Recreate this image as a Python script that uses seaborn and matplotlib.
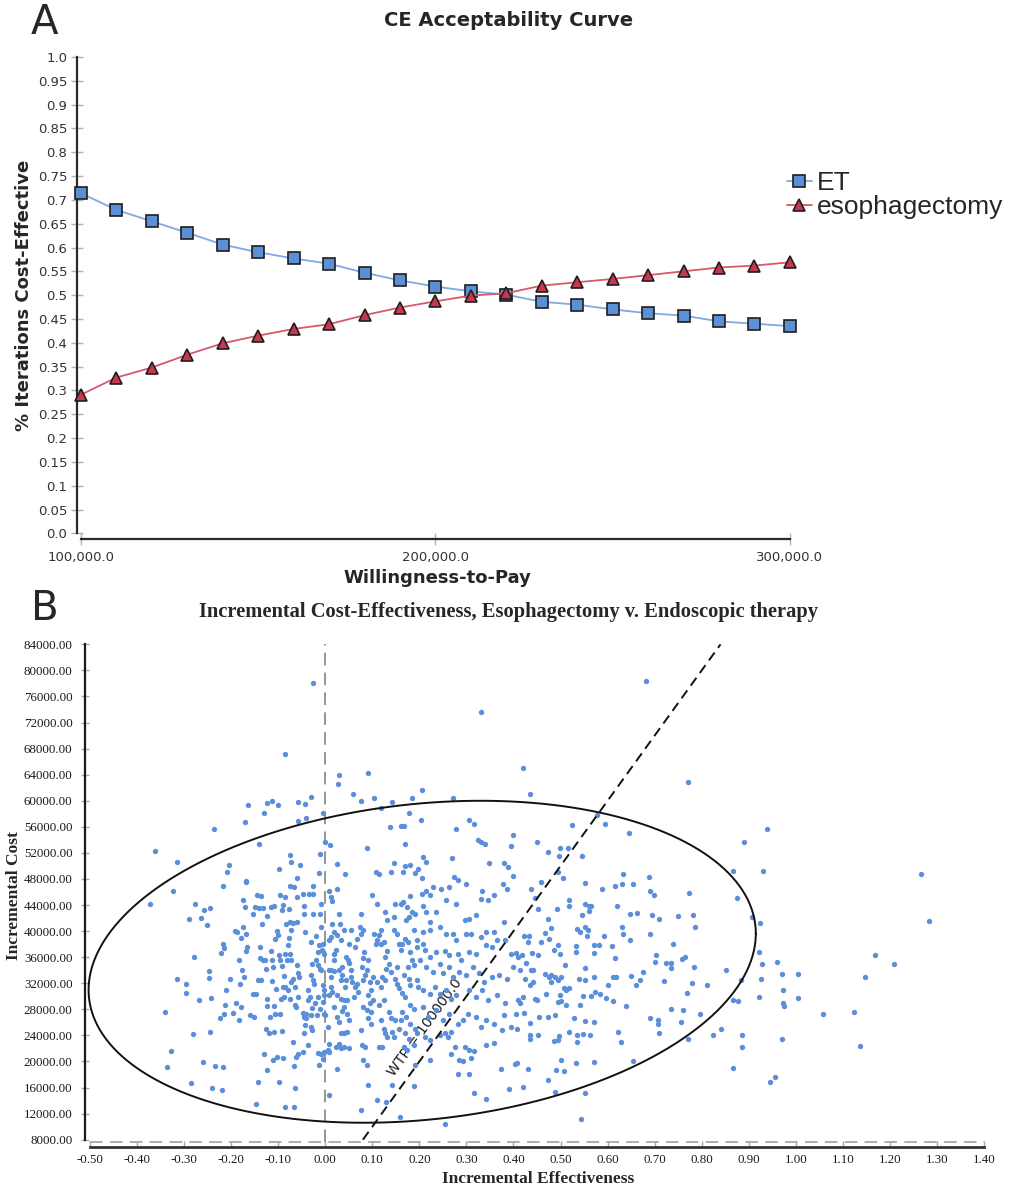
import numpy as np
import matplotlib
matplotlib.use("Agg")
import matplotlib.pyplot as plt
import seaborn as sns

# ---- panel A: CE acceptability curve ----
wtp = list(range(100000, 300001, 10000))
et_share = [0.714, 0.679, 0.655, 0.631, 0.606, 0.590, 0.577, 0.566, 0.547, 0.531, 0.518,
            0.508, 0.501, 0.486, 0.480, 0.470, 0.462, 0.457, 0.445, 0.440, 0.435]
eso_share = [0.291, 0.327, 0.348, 0.375, 0.399, 0.415, 0.429, 0.439, 0.458, 0.474, 0.487,
             0.499, 0.504, 0.520, 0.527, 0.534, 0.542, 0.550, 0.558, 0.562, 0.569]
a_yticks = [round(i * 0.05, 2) for i in range(21)]
a_xticks = [100000, 200000, 300000]

# ---- panel B: incremental cost-effectiveness plane (effectiveness, cost in $1000) ----
pts_top = [(-0.362, 52.3), (-0.316, 50.6), (-0.236, 55.7), (-0.170, 56.8), (-0.165, 59.4), (-0.168, 47.7),
           (-0.140, 53.4), (-0.130, 58.1), (-0.123, 59.6), (-0.114, 60.0), (-0.100, 59.3), (-0.086, 67.1),
           (-0.205, 50.1), (-0.208, 49.0), (-0.098, 49.5), (-0.075, 51.7), (-0.072, 50.6), (-0.053, 50.2),
           (-0.060, 48.2), (-0.058, 59.8), (-0.044, 59.5), (-0.058, 56.9), (-0.041, 57.4), (-0.031, 60.6),
           (-0.025, 78.0), (-0.004, 58.1), (-0.012, 51.9), (-0.013, 48.9), (-0.001, 53.6), (0.010, 53.2),
           (0.025, 50.3), (0.041, 48.8), (0.028, 62.5), (0.029, 63.9), (0.059, 61.1), (0.076, 59.9),
           (0.090, 64.2), (0.104, 60.4), (0.089, 52.8), (0.119, 58.9), (0.141, 59.8), (0.138, 55.9),
           (0.108, 49.1), (0.115, 48.8), (0.139, 49.1), (0.147, 50.4), (0.161, 56.2), (0.168, 56.2),
           (0.169, 53.4), (0.178, 58.1), (0.184, 60.5), (0.170, 50.0), (0.181, 50.1), (0.165, 49.1),
           (0.190, 48.9), (0.198, 49.5), (0.205, 61.6), (0.204, 57.1), (0.207, 51.3), (0.214, 50.6),
           (0.206, 48.2), (0.272, 60.5), (0.277, 55.6), (0.269, 51.2), (0.273, 48.3), (0.331, 73.6),
           (0.306, 57.1), (0.317, 56.4), (0.324, 54.0), (0.331, 53.6), (0.339, 53.4), (0.347, 50.4),
           (0.380, 50.5), (0.388, 49.9), (0.394, 53.1), (0.399, 54.8), (0.399, 48.4), (0.681, 78.4),
           (0.421, 65.1), (0.436, 61.0), (0.770, 62.9), (0.577, 57.8), (0.594, 56.5), (0.525, 56.3),
           (0.645, 55.0), (0.938, 55.6), (0.889, 53.7), (0.449, 53.7), (0.473, 52.2), (0.499, 52.7),
           (0.515, 52.7), (0.497, 51.5), (0.545, 51.6), (0.494, 49.1), (0.506, 48.1), (0.632, 48.8),
           (0.688, 48.3), (0.867, 49.3), (0.931, 49.2), (1.265, 48.8)]

pts_left = [(-0.372, 44.1), (-0.323, 46.2), (-0.341, 27.6), (-0.327, 21.6), (-0.337, 19.2), (-0.315, 32.7),
            (-0.297, 31.9), (-0.297, 30.5), (-0.289, 41.8), (-0.276, 44.2), (-0.279, 36.0), (-0.281, 24.2),
            (-0.285, 16.7), (-0.269, 29.5), (-0.264, 42.0), (-0.258, 43.3), (-0.245, 43.6), (-0.252, 40.9),
            (-0.247, 33.9), (-0.247, 32.8), (-0.242, 29.7), (-0.245, 24.5), (-0.259, 19.9), (-0.234, 19.3),
            (-0.241, 16.0), (-0.218, 19.1), (-0.220, 15.6), (-0.223, 26.7), (-0.216, 27.3), (-0.214, 28.6),
            (-0.211, 30.9), (-0.203, 32.7), (-0.222, 36.6), (-0.215, 37.4), (-0.218, 38.0), (-0.217, 47.0),
            (-0.196, 27.5), (-0.190, 29.0), (-0.184, 26.3), (-0.179, 28.4), (-0.184, 35.6), (-0.179, 39.0),
            (-0.191, 40.0), (-0.187, 39.8), (-0.175, 40.6), (-0.182, 31.9), (-0.176, 34.0), (-0.173, 33.0),
            (-0.168, 37.0), (-0.166, 37.5), (-0.174, 44.7), (-0.171, 43.7), (-0.168, 47.5), (-0.168, 39.6),
            (-0.161, 27.1), (-0.151, 26.9), (-0.154, 30.4), (-0.147, 30.3), (-0.143, 32.5), (-0.136, 32.5),
            (-0.138, 35.9), (-0.133, 35.6), (-0.139, 37.6), (-0.135, 41.1), (-0.145, 45.5), (-0.136, 45.4),
            (-0.153, 42.6), (-0.150, 43.7), (-0.140, 43.6), (-0.133, 43.6), (-0.123, 42.3), (-0.116, 43.7),
            (-0.109, 43.9), (-0.128, 35.5), (-0.127, 34.2), (-0.124, 29.6), (-0.123, 28.5), (-0.125, 25.0),
            (-0.130, 21.1), (-0.124, 18.7), (-0.142, 16.8), (-0.148, 13.4), (-0.118, 26.8), (-0.109, 28.5),
            (-0.120, 24.3), (-0.112, 20.3), (-0.099, 16.8), (-0.102, 20.7), (-0.090, 20.6), (-0.110, 24.5),
            (-0.107, 27.3), (-0.097, 27.3), (-0.091, 24.6), (-0.105, 31.1), (-0.113, 32.3), (-0.112, 34.5),
            (-0.113, 35.5), (-0.116, 37.0), (-0.106, 38.8), (-0.101, 39.4), (-0.102, 40.0), (-0.098, 36.3),
            (-0.097, 35.5), (-0.093, 34.6), (-0.088, 33.1), (-0.090, 31.5), (-0.085, 31.4), (-0.095, 29.6),
            (-0.088, 29.9), (-0.079, 30.9), (-0.076, 29.6), (-0.065, 31.5), (-0.068, 32.7), (-0.072, 32.2),
            (-0.079, 37.8), (-0.078, 39.0), (-0.072, 40.2), (-0.069, 41.2), (-0.075, 41.4), (-0.083, 41.1),
            (-0.086, 36.5), (-0.082, 35.6), (-0.076, 36.5), (-0.072, 35.5), (-0.093, 43.3), (-0.097, 45.5),
            (-0.086, 45.2), (-0.090, 44.0), (-0.075, 47.0), (-0.066, 46.7), (-0.078, 43.4), (-0.061, 45.2),
            (-0.060, 41.4), (-0.060, 34.8), (-0.057, 33.6), (-0.056, 33.0), (-0.058, 29.9), (-0.064, 28.6),
            (-0.062, 28.3), (-0.068, 23.0), (-0.066, 19.3), (-0.062, 20.7), (-0.058, 21.2), (-0.064, 16.0),
            (-0.085, 13.0), (-0.066, 13.0), (-0.048, 21.4), (-0.046, 24.3), (-0.044, 25.6), (-0.048, 27.4),
            (-0.046, 26.8), (-0.041, 26.6), (-0.036, 22.6), (-0.040, 27.3), (-0.037, 29.4), (-0.032, 29.9),
            (-0.037, 30.9), (-0.030, 33.2), (-0.027, 32.5), (-0.023, 31.9), (-0.028, 28.2), (-0.030, 27.1),
            (-0.029, 24.9), (-0.030, 25.3), (-0.046, 42.6), (-0.046, 43.9), (-0.048, 45.7), (-0.034, 45.7),
            (-0.025, 45.7), (-0.027, 46.9), (-0.027, 42.7), (-0.043, 39.9), (-0.030, 38.3), (-0.028, 35.0),
            (-0.020, 35.5), (-0.016, 34.8), (-0.015, 36.8), (-0.013, 37.8), (-0.019, 39.2), (-0.012, 42.7),
            (-0.010, 44.2), (-0.009, 40.6), (-0.005, 38.1), (-0.007, 37.1), (-0.003, 36.5), (-0.011, 34.2),
            (-0.009, 34.0), (-0.016, 29.9), (-0.017, 27.1), (-0.021, 28.9), (-0.012, 28.1), (-0.005, 31.8),
            (-0.003, 30.9), (-0.002, 30.2), (-0.005, 29.1), (-0.002, 27.3), (-0.016, 21.3), (-0.014, 19.4),
            (-0.009, 21.2), (-0.005, 20.4), (-0.002, 21.5)]

pts_mid = [(0.000, 27.1), (0.005, 21.7), (0.008, 21.5), (0.007, 14.8), (0.008, 22.7), (0.005, 25.3),
           (0.008, 46.2), (0.012, 45.2), (0.015, 44.6), (0.026, 46.5), (0.014, 41.1), (0.013, 39.1),
           (0.007, 38.7), (0.019, 39.9), (0.029, 42.7), (0.032, 41.1), (0.033, 38.6), (0.026, 39.4),
           (0.023, 37.1), (0.019, 36.5), (0.018, 35.5), (0.012, 34.1), (0.008, 34.0), (0.012, 33.0),
           (0.019, 33.9), (0.029, 34.0), (0.035, 33.2), (0.033, 32.5), (0.013, 31.4), (0.015, 30.7),
           (0.008, 30.2), (0.026, 30.2), (0.033, 29.6), (0.040, 29.5), (0.047, 29.4), (0.043, 31.4),
           (0.045, 32.5), (0.036, 34.5), (0.044, 36.0), (0.048, 35.5), (0.050, 35.1), (0.054, 34.0),
           (0.054, 33.0), (0.057, 32.2), (0.064, 31.4), (0.068, 31.9), (0.061, 29.9), (0.070, 30.7),
           (0.040, 40.1), (0.055, 40.1), (0.050, 38.0), (0.064, 37.5), (0.068, 38.8), (0.077, 42.7),
           (0.074, 40.7), (0.077, 39.6), (0.081, 40.1), (0.082, 36.8), (0.081, 35.9), (0.079, 34.5),
           (0.084, 33.2), (0.081, 32.5), (0.088, 34.0), (0.091, 35.5), (0.095, 32.2), (0.098, 30.9),
           (0.091, 30.2), (0.081, 28.4), (0.088, 27.9), (0.095, 28.9), (0.098, 27.6), (0.090, 26.6),
           (0.097, 25.8), (0.019, 28.4), (0.026, 26.9), (0.029, 26.1), (0.040, 24.3), (0.047, 24.5),
           (0.050, 26.3), (0.047, 27.3), (0.040, 28.4), (0.036, 27.8), (0.033, 24.3), (0.029, 22.7),
           (0.022, 22.2), (0.034, 22.0), (0.040, 22.2), (0.050, 22.0), (0.026, 18.9), (0.077, 24.8),
           (0.079, 22.6), (0.084, 22.2), (0.081, 20.2), (0.088, 19.4), (0.090, 16.4), (0.077, 12.5),
           (0.109, 14.1), (0.130, 13.8), (0.141, 16.4),
           (0.100, 45.5), (0.111, 44.2), (0.128, 42.9), (0.132, 41.7), (0.146, 42.2), (0.149, 44.2),
           (0.161, 44.2), (0.166, 44.5), (0.173, 43.7), (0.177, 42.2), (0.172, 41.7), (0.180, 45.4),
           (0.184, 42.9), (0.191, 42.7), (0.118, 40.1), (0.114, 39.4), (0.111, 38.6), (0.104, 39.6),
           (0.107, 38.1), (0.118, 38.1), (0.125, 38.3), (0.132, 37.0), (0.128, 36.0), (0.135, 35.0),
           (0.130, 34.2), (0.139, 33.7), (0.146, 40.1), (0.153, 39.6), (0.156, 38.1), (0.160, 37.1),
           (0.163, 38.1), (0.170, 38.8), (0.175, 38.3), (0.188, 40.1), (0.194, 38.6), (0.195, 37.6),
           (0.181, 36.8), (0.184, 35.5), (0.188, 34.8), (0.175, 34.5), (0.153, 34.5), (0.149, 32.7),
           (0.153, 31.9), (0.156, 31.2), (0.163, 30.5), (0.170, 29.9), (0.167, 33.2), (0.177, 32.7),
           (0.181, 31.7), (0.194, 32.5), (0.198, 31.4), (0.102, 33.0), (0.111, 32.2), (0.118, 31.4),
           (0.121, 33.0), (0.128, 32.5), (0.102, 29.4), (0.114, 28.6), (0.125, 29.4), (0.135, 27.6),
           (0.139, 26.6), (0.149, 26.3), (0.160, 26.3), (0.163, 27.6), (0.172, 26.8), (0.181, 28.6),
           (0.188, 28.1), (0.181, 25.8), (0.191, 25.0), (0.118, 26.3), (0.125, 25.0), (0.127, 24.3),
           (0.132, 23.8), (0.142, 24.5), (0.146, 23.8), (0.156, 25.0), (0.170, 24.3), (0.179, 23.5),
           (0.188, 22.5), (0.195, 24.3), (0.114, 22.2), (0.121, 22.2), (0.167, 22.2), (0.174, 21.7),
           (0.191, 19.4), (0.188, 16.2), (0.159, 11.5),
           (0.205, 45.7), (0.215, 46.2), (0.222, 45.5), (0.229, 46.8), (0.247, 46.5), (0.264, 46.8),
           (0.282, 47.8), (0.299, 47.3), (0.208, 43.9), (0.215, 42.9), (0.222, 41.4), (0.236, 42.9),
           (0.257, 44.7), (0.278, 44.2), (0.296, 41.7), (0.306, 41.9), (0.320, 42.5), (0.331, 45.0),
           (0.334, 46.2), (0.345, 44.7), (0.359, 45.5), (0.377, 47.3), (0.387, 46.5), (0.208, 39.9),
           (0.222, 40.1), (0.243, 40.6), (0.257, 39.6), (0.271, 39.6), (0.299, 39.6), (0.310, 39.6),
           (0.331, 39.1), (0.341, 39.9), (0.359, 39.9), (0.380, 41.4), (0.208, 38.1), (0.212, 37.1),
           (0.222, 36.0), (0.236, 36.8), (0.254, 37.0), (0.264, 36.3), (0.278, 38.6), (0.282, 36.5),
           (0.289, 35.5), (0.306, 36.8), (0.320, 36.5), (0.341, 37.8), (0.355, 37.5), (0.366, 38.6),
           (0.383, 38.6), (0.394, 36.5), (0.201, 35.5), (0.215, 34.5), (0.229, 33.7), (0.243, 35.0),
           (0.250, 33.5), (0.264, 34.5), (0.271, 33.0), (0.285, 33.7), (0.299, 33.2), (0.313, 34.5),
           (0.327, 33.5), (0.338, 32.2), (0.355, 33.0), (0.369, 33.2), (0.387, 32.7), (0.398, 34.5),
           (0.208, 30.9), (0.222, 30.4), (0.233, 31.4), (0.243, 30.4), (0.257, 30.9), (0.268, 29.6),
           (0.278, 30.2), (0.306, 30.9), (0.320, 29.9), (0.334, 30.9), (0.345, 29.4), (0.366, 30.2),
           (0.383, 28.9), (0.208, 28.4), (0.218, 26.8), (0.236, 27.9), (0.250, 26.3), (0.264, 27.3),
           (0.282, 25.8), (0.292, 26.3), (0.303, 27.3), (0.320, 26.8), (0.331, 25.3), (0.341, 26.3),
           (0.359, 25.8), (0.380, 27.1), (0.394, 25.3), (0.212, 23.8), (0.222, 23.3), (0.243, 24.0),
           (0.254, 24.3), (0.261, 23.8), (0.268, 24.5), (0.275, 22.2), (0.296, 22.2), (0.306, 21.7),
           (0.317, 21.6), (0.341, 22.5), (0.359, 22.8), (0.376, 24.8), (0.222, 20.2), (0.268, 21.2),
           (0.285, 20.2), (0.292, 20.0), (0.310, 20.6), (0.282, 18.1), (0.306, 18.1), (0.317, 15.1),
           (0.341, 14.2), (0.254, 10.4), (0.373, 18.9), (0.390, 15.8), (0.404, 19.6)]

pts_right = [(0.437, 46.4), (0.458, 47.5), (0.446, 45.1), (0.453, 43.4), (0.492, 43.4), (0.517, 44.7),
             (0.519, 43.9), (0.553, 47.4), (0.552, 44.2), (0.560, 43.9), (0.564, 43.9), (0.560, 43.1),
             (0.589, 46.5), (0.615, 47.0), (0.631, 47.2), (0.653, 47.2), (0.691, 46.1), (0.699, 45.5),
             (0.772, 45.8), (0.876, 45.1), (0.619, 43.8), (0.647, 42.7), (0.662, 42.8), (0.694, 42.4),
             (0.709, 41.8), (0.749, 42.3), (0.781, 42.5), (0.786, 40.6), (0.906, 42.1), (0.923, 41.2),
             (1.283, 41.6), (0.473, 41.9), (0.480, 40.5), (0.466, 39.7), (0.475, 38.8), (0.458, 38.3),
             (0.452, 36.3), (0.423, 39.2), (0.432, 39.2), (0.430, 38.3), (0.439, 36.6), (0.419, 36.3),
             (0.426, 35.1), (0.437, 34.0), (0.441, 34.1), (0.414, 34.1), (0.405, 36.6), (0.409, 36.0),
             (0.487, 37.1), (0.495, 37.8), (0.498, 36.5), (0.510, 34.8), (0.532, 37.7), (0.532, 36.8),
             (0.535, 40.4), (0.542, 39.9), (0.545, 42.4), (0.553, 40.6), (0.559, 40.1), (0.556, 39.2),
             (0.571, 37.9), (0.582, 37.9), (0.571, 36.6), (0.592, 39.2), (0.610, 37.7), (0.616, 35.9),
             (0.631, 40.6), (0.633, 39.5), (0.648, 38.7), (0.690, 39.5), (0.702, 36.4), (0.700, 35.2),
             (0.739, 38.1), (0.759, 35.7), (0.765, 36.0), (0.725, 35.1), (0.735, 35.1), (0.735, 34.4),
             (0.783, 34.5), (0.921, 36.8), (0.928, 34.9), (0.960, 35.3), (0.971, 33.4), (1.005, 33.4),
             (1.168, 36.4), (1.209, 35.0), (1.148, 32.9), (0.852, 34.0), (0.884, 32.5), (0.927, 32.6),
             (0.973, 31.0), (0.922, 29.9), (1.005, 29.8), (0.973, 29.0), (0.974, 28.5), (0.867, 29.5),
             (0.877, 29.3), (1.057, 27.3), (1.124, 27.6), (1.137, 22.4), (0.971, 23.4), (0.946, 16.9),
             (0.956, 17.6), (0.867, 19.0), (0.886, 24.0), (0.886, 22.2), (0.825, 24.0), (0.841, 25.0),
             (0.811, 31.8), (0.796, 27.3), (0.771, 23.5), (0.755, 26.1), (0.760, 27.9), (0.735, 28.1),
             (0.768, 30.5), (0.779, 32.0), (0.719, 32.3), (0.676, 33.7), (0.669, 32.5), (0.660, 31.8),
             (0.650, 33.1), (0.690, 26.7), (0.708, 26.4), (0.708, 25.7), (0.709, 24.4), (0.639, 28.5),
             (0.622, 24.5), (0.628, 23.0), (0.611, 33.0), (0.618, 33.0), (0.601, 31.7), (0.597, 29.7),
             (0.611, 29.3), (0.584, 30.4), (0.574, 30.6), (0.564, 30.0), (0.571, 33.0), (0.552, 32.5),
             (0.539, 32.7), (0.548, 30.0), (0.553, 34.4), (0.571, 26.1), (0.553, 26.2), (0.562, 24.0),
             (0.547, 24.2), (0.535, 24.1), (0.535, 23.0), (0.519, 24.5), (0.529, 26.6), (0.542, 28.7),
             (0.507, 31.2), (0.512, 30.9), (0.517, 31.2), (0.512, 28.6), (0.498, 30.2), (0.495, 29.1),
             (0.500, 29.3), (0.495, 32.5), (0.501, 33.0), (0.488, 33.0), (0.479, 33.2), (0.475, 33.0),
             (0.468, 33.4), (0.479, 32.2), (0.470, 30.3), (0.450, 29.5), (0.445, 29.6), (0.441, 32.2),
             (0.436, 31.7), (0.424, 32.7), (0.421, 29.9), (0.414, 29.0), (0.488, 27.2), (0.473, 26.8),
             (0.455, 26.9), (0.435, 25.9), (0.435, 24.0), (0.435, 23.4), (0.452, 24.1), (0.487, 23.1),
             (0.495, 23.3), (0.496, 23.9), (0.500, 20.3), (0.490, 18.7), (0.507, 18.6), (0.532, 19.8),
             (0.571, 19.9), (0.473, 17.2), (0.488, 15.3), (0.551, 15.1), (0.654, 20.0), (0.544, 11.2),
             (0.430, 18.9), (0.407, 19.7), (0.421, 16.1), (0.423, 27.4), (0.405, 27.3), (0.407, 25.0),
             (0.409, 29.4)]

b_xticks = [round(-0.5 + 0.1 * i, 2) for i in range(20)]
b_yticks = list(range(8000, 84001, 4000))
wtp_threshold = 100000.0
wtp_span = [0.08, 0.84]
# 95% confidence ellipse: centre, half-extent in x and y, phase between them
ell_cx, ell_cy = 0.206, 35300.0
ell_rx, ell_ry = 0.709, 24700.0
ell_phase = np.arccos(0.175)

sns.set_theme(style="white")
plt.rcParams['font.family'] = ['DejaVu Sans']

fig = plt.figure(figsize=(10.1, 11.89), dpi=100)

# ================= Panel A =================
ax1 = fig.add_axes([0.0762, 0.5464, 0.7059, 0.4057])
sns.lineplot(x=wtp, y=et_share, ax=ax1, color='#7fa9e0', linewidth=1.3, marker='s',
             markersize=8.5, markerfacecolor='#5b8fd6', markeredgecolor='#1e1e1e',
             markeredgewidth=1.2, label='ET', clip_on=False, zorder=3)
sns.lineplot(x=wtp, y=eso_share, ax=ax1, color='#d9586c', linewidth=1.3, marker='^',
             markersize=9, markerfacecolor='#c8374d', markeredgecolor='#1e1e1e',
             markeredgewidth=1.2, label='esophagectomy', clip_on=False, zorder=4)

ax1.set_xlim(98880, 300000)
ax1.set_ylim(-0.0126, 1.0)
for s in ['top', 'right']:
    ax1.spines[s].set_visible(False)
for s in ['left', 'bottom']:
    ax1.spines[s].set_color('#2a2a2a')
    ax1.spines[s].set_linewidth(1.6)
ax1.spines['left'].set_bounds(0.0, 1.0)
ax1.spines['bottom'].set_bounds(100000, 300000)

ax1.set_yticks(a_yticks)
ax1.set_yticklabels([f"{v:.2f}"[:-1] if f"{v:.2f}".endswith('0') else f"{v:.2f}" for v in a_yticks])
ax1.set_xticks(a_xticks)
ax1.set_xticklabels([f"{v:,.1f}" for v in a_xticks])
ax1.tick_params(axis='y', direction='inout', length=8, width=1, color='#b0b0b0',
                labelsize=9.5, labelcolor='#333333', pad=3, left=True)
ax1.tick_params(axis='x', direction='inout', length=9, width=1, color='#b0b0b0',
                labelsize=9.5, labelcolor='#333333', pad=4, bottom=True)

ax1.set_ylabel('% Iterations Cost-Effective', fontsize=13, fontweight='bold')
ax1.yaxis.set_label_coords(-0.062, 0.5065)
ax1.set_xlabel('Willingness-to-Pay', fontsize=13, fontweight='bold')
ax1.xaxis.set_label_coords(0.505, -0.062)

fig.text(0.504, 1 - 20 / 1189, 'CE Acceptability Curve', ha='center', va='center',
         fontsize=14, fontweight='bold')
fig.text(31 / 1010, 1 - 23 / 1189, 'A', ha='left', va='center', fontsize=29)

ax1.legend(loc='upper left', bbox_to_anchor=(0.779, 0.856), bbox_transform=fig.transFigure,
           frameon=False, borderpad=0, borderaxespad=0, handlelength=0.95, handletextpad=0.2,
           labelspacing=0.0, prop={'family': 'Liberation Sans', 'size': 19})

# ================= Panel B =================
ax2 = fig.add_axes([0.08416, 0.03558, 0.8911, 0.4225])
allpts = pts_top + pts_left + pts_mid + pts_right
eff = [p[0] for p in allpts]
cost = [p[1] * 1000 for p in allpts]

ax2.set_xlim(-0.5106, 1.4021)
ax2.set_ylim(6926, 84000)

sns.scatterplot(x=eff, y=cost, ax=ax2, color='#5b8fda', s=15, linewidth=0, zorder=3)

t = np.linspace(0, 2 * np.pi, 400)
ax2.plot(ell_cx + ell_rx * np.cos(t), ell_cy + ell_ry * np.cos(t - ell_phase),
         color='#111111', linewidth=1.4, zorder=4)

ax2.plot(wtp_span, [wtp_threshold * v for v in wtp_span], color='#111111', linewidth=1.4,
         linestyle=(0, (5, 3)), zorder=5)
ax2.vlines(0, 7700, 84000, colors='#8c8c8c', linewidth=1.3, linestyles=(0, (7, 4)), zorder=2)
ax2.hlines(7700, -0.5, 1.4, colors='#a8a8a8', linewidth=1.3, linestyles=(0, (7, 4)), zorder=2)

# WTP label sits under the points, rotated along the threshold line
p0 = ax2.transData.transform((0.1, 10000))
p1 = ax2.transData.transform((0.6, 60000))
ang = np.degrees(np.arctan2(p1[1] - p0[1], p1[0] - p0[0]))
ax2.text(0.212, 25300, 'WTP = 100000.0', rotation=ang, rotation_mode='anchor', ha='center',
         va='center', fontsize=10, color='#1a1a1a', zorder=1, family='DejaVu Sans')

for s in ['top', 'right']:
    ax2.spines[s].set_visible(False)
ax2.spines['left'].set_color('#1a1a1a')
ax2.spines['left'].set_linewidth(1.6)
ax2.spines['left'].set_bounds(8000, 84000)
ax2.spines['bottom'].set_color('#333333')
ax2.spines['bottom'].set_linewidth(2.0)
ax2.spines['bottom'].set_bounds(-0.5, 1.4)

ax2.set_xticks(b_xticks)
ax2.set_xticklabels([f"{v:.2f}" if abs(v) > 1e-9 else "0.00" for v in b_xticks])
ax2.set_yticks(b_yticks)
ax2.set_yticklabels([f"{v:.2f}" for v in b_yticks])
ax2.tick_params(axis='x', direction='in', length=4, width=1, color='#a8a8a8',
                labelsize=9.3, labelcolor='#1a1a1a', pad=5, bottom=True)
ax2.tick_params(axis='y', direction='inout', length=6, width=1, color='#a8a8a8',
                labelsize=9.4, labelcolor='#1a1a1a', pad=6, left=True)
for lab in ax2.get_xticklabels() + ax2.get_yticklabels():
    lab.set_family('Liberation Serif')

ax2.set_ylabel('Incremental Cost', fontsize=12.5, fontweight='bold', family='Liberation Serif')
ax2.yaxis.set_label_coords(-0.07, 0.5)
ax2.set_xlabel('Incremental Effectiveness', fontsize=12.5, fontweight='bold',
               family='Liberation Serif')
ax2.xaxis.set_label_coords(0.504, -0.048)

fig.text(0.503, 1 - 611.7 / 1189,
         'Incremental Cost-Effectiveness, Esophagectomy v. Endoscopic therapy',
         ha='center', va='center', fontsize=14.8, fontweight='bold', family='Liberation Serif')
fig.text(31 / 1010, 1 - 609 / 1189, 'B', ha='left', va='center', fontsize=29)

fig.savefig('out.png', dpi=100)
